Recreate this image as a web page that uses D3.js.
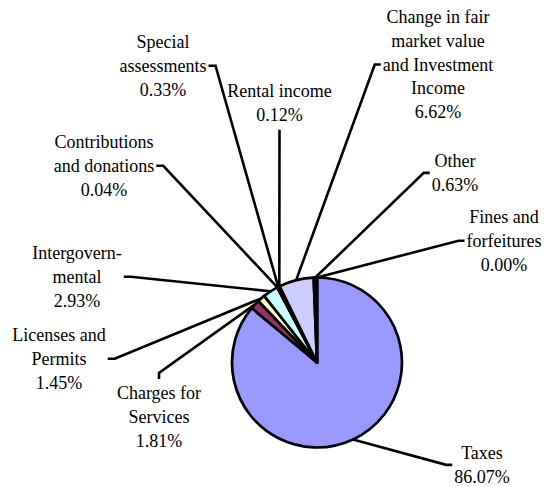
<!DOCTYPE html>
<html>
<head>
<meta charset="utf-8">
<script src="https://cdn.jsdelivr.net/npm/d3@7"></script>
</head>
<body style="margin:0; background:#fff">
<svg id="chart" width="552" height="487"></svg>
<script>
// data, clockwise from 12 o'clock
var categories = ["Taxes", "Charges for Services", "Licenses and Permits", "Intergovernmental",
  "Contributions and donations", "Special assessments", "Rental income",
  "Change in fair market value and Investment Income", "Other", "Fines and forfeitures"];
var values = [86.07, 1.81, 1.45, 2.93, 0.04, 0.33, 0.12, 6.62, 0.63, 0.00];
var labelLines = [["Taxes"], ["Charges for", "Services"], ["Licenses and", "Permits"],
  ["Intergovern-", "mental"], ["Contributions", "and donations"], ["Special", "assessments"],
  ["Rental income"], ["Change in fair", "market value", "and Investment", "Income"],
  ["Other"], ["Fines and", "forfeitures"]];
var colors = ["#9999ff", "#993366", "#ffffcc", "#ccffff", "#660066", "#ff8080",
  "#0066cc", "#ccccff", "#660066", "#ff00ff"];

// label placement: centre x, first baseline, side the leader attaches to
var labelPos = [[482, 459, "left"], [159, 399, "top"], [59, 341, "right"], [77, 259, "right"],
  [104, 148, "right"], [163, 48, "right"], [279.5, 97, "bottom"], [438, 23, "left"],
  [455, 167, "left"], [504, 223, "left"]];

var cx = 317, cy = 362.5, r = 85, lineH = 23.75;
var serif = "'Liberation Serif', 'Times New Roman', serif";

var svg = d3.select("#chart");
var data = categories.map(function(c, i) { return {label: c, value: values[i], i: i}; });

var pie = d3.pie().sort(null).value(function(d) { return d.value; });
var arcs = pie(data);
var arc = d3.arc().innerRadius(0).outerRadius(r);
var edge = d3.arc().innerRadius(r).outerRadius(r);

var pieG = svg.append("g").attr("transform", "translate(" + cx + "," + cy + ")");
pieG.selectAll("path.slice").data(arcs).enter().append("path")
  .attr("class", "slice")
  .attr("d", arc)
  .attr("fill", function(d) { return colors[d.data.i]; })
  .attr("stroke", "#000")
  .attr("stroke-width", 2.7)
  .attr("stroke-linejoin", "round");

// labels, one text per line
var fmt = d3.format(".2f");
var labG = svg.append("g");
var boxes = [];
arcs.forEach(function(d) {
  var p = labelPos[d.data.i];
  var lines = labelLines[d.data.i].concat([fmt(d.data.value) + "%"]);
  var w = 0;
  lines.forEach(function(l, k) {
    var t = labG.append("text")
      .attr("x", p[0]).attr("y", p[1] + k * lineH)
      .attr("text-anchor", "middle")
      .style("font-family", serif)
      .style("font-size", "18px")
      .style("fill", "#000")
      .text(l);
    w = Math.max(w, t.node().getComputedTextLength());
  });
  boxes.push({d: d, p: p, n: lines.length, w: w});
});

// leader lines: slice edge -> elbow -> label anchor
var leaderG = svg.append("g");
boxes.forEach(function(b) {
  var p = b.p, w = b.w;
  var firstB = p[1], lastB = p[1] + (b.n - 1) * lineH;
  var midY = (firstB + lastB) / 2 - 6;
  var a, e;
  if (p[2] === "left") { a = [p[0] - w / 2 - 2, midY]; e = [a[0] - 6, midY]; }
  else if (p[2] === "right") { a = [p[0] + w / 2 + 2, midY]; e = [a[0] + 7, midY]; }
  else if (p[2] === "top") { a = [p[0], firstB - 20]; e = [p[0], a[1] - 6]; }
  else { a = [p[0], lastB + 9]; e = [p[0], a[1] + 6]; }
  var c = edge.centroid(b.d);
  var s = [cx + c[0], cy + c[1]];
  leaderG.append("path")
    .attr("d", d3.line()([s, e, a]))
    .attr("fill", "none")
    .attr("stroke", "#000")
    .attr("stroke-width", 2.6)
    .attr("stroke-linejoin", "miter");
});
</script>
</body>
</html>
